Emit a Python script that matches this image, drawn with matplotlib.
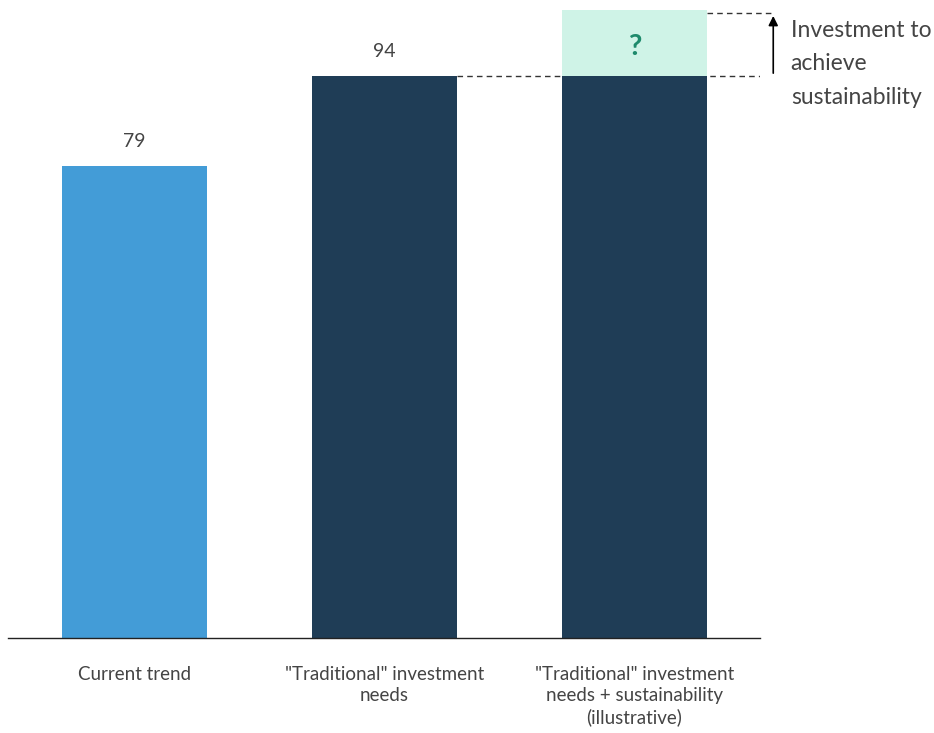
import matplotlib
matplotlib.use("Agg")
import matplotlib.pyplot as plt

# data
categories = ['Current trend', '"Traditional" investment\nneeds',
              '"Traditional" investment\nneeds + sustainability\n(illustrative)']
values = [79, 94, 94]
value_labels = ['79', '94', None]
extra = [0, 0, 11]   # illustrative top-up on the last bar
bar_colors = ['#439CD7', '#1F3D56', '#1F3D56']

plt.rcParams['font.family'] = ['Lato', 'DejaVu Sans']
txt = '#444444'

fig = plt.figure(figsize=(9.34, 7.33), dpi=100)
ax = fig.add_axes([8 / 934, 95 / 733, 752 / 934, 638 / 733])

x = list(range(len(categories)))
bars = ax.bar(x, values, width=0.58, color=bar_colors, zorder=2)
tops = ax.bar(x, extra, bottom=values, width=0.58, color='#CFF3E7', zorder=2)

for b, lab in zip(bars, value_labels):
    if lab:
        ax.text(b.get_x() + b.get_width() / 2, b.get_height() + 2.6, lab,
                ha='center', va='bottom', fontsize=14, color=txt)

# question mark in the illustrative part
tb = tops[2]
ax.text(tb.get_x() + tb.get_width() / 2, values[2] + extra[2] / 2 - 0.6, '?',
        ha='center', va='center', fontsize=21, fontweight='bold', color='#1E8A6C')

# dashed guides + arrow
x_arrow = 2.555
ax.plot([bars[1].get_x() + bars[1].get_width(), x_arrow + 0.005], [values[1]] * 2,
        lw=1, color='#333333', dashes=(4, 3), zorder=1)
ax.plot([tb.get_x() + tb.get_width(), x_arrow + 0.005], [values[2] + extra[2] - 0.5] * 2,
        lw=1, color='#333333', dashes=(4, 3), zorder=1, clip_on=False)
ax.annotate('', xy=(x_arrow, values[2] + extra[2] - 0.5), xytext=(x_arrow, values[2]),
            arrowprops=dict(arrowstyle='-|>', color='black', lw=1.2, mutation_scale=14),
            annotation_clip=False)
ax.text(x_arrow + 0.07, 103.4, 'Investment to\nachieve\nsustainability',
        ha='left', va='top', fontsize=16.5, color=txt, linespacing=1.74)

ax.set_xlim(-0.506, 2.502)
ax.set_ylim(0, 106.7)
ax.set_xticks(x)
ax.set_xticklabels(categories, fontsize=13.5, color=txt, linespacing=1.3)
ax.tick_params(axis='x', length=0, pad=20)
ax.set_yticks([])
for s in ['top', 'right', 'left']:
    ax.spines[s].set_visible(False)
ax.spines['bottom'].set_color('#222222')
ax.spines['bottom'].set_linewidth(1)

fig.savefig('out.png', dpi=100)
